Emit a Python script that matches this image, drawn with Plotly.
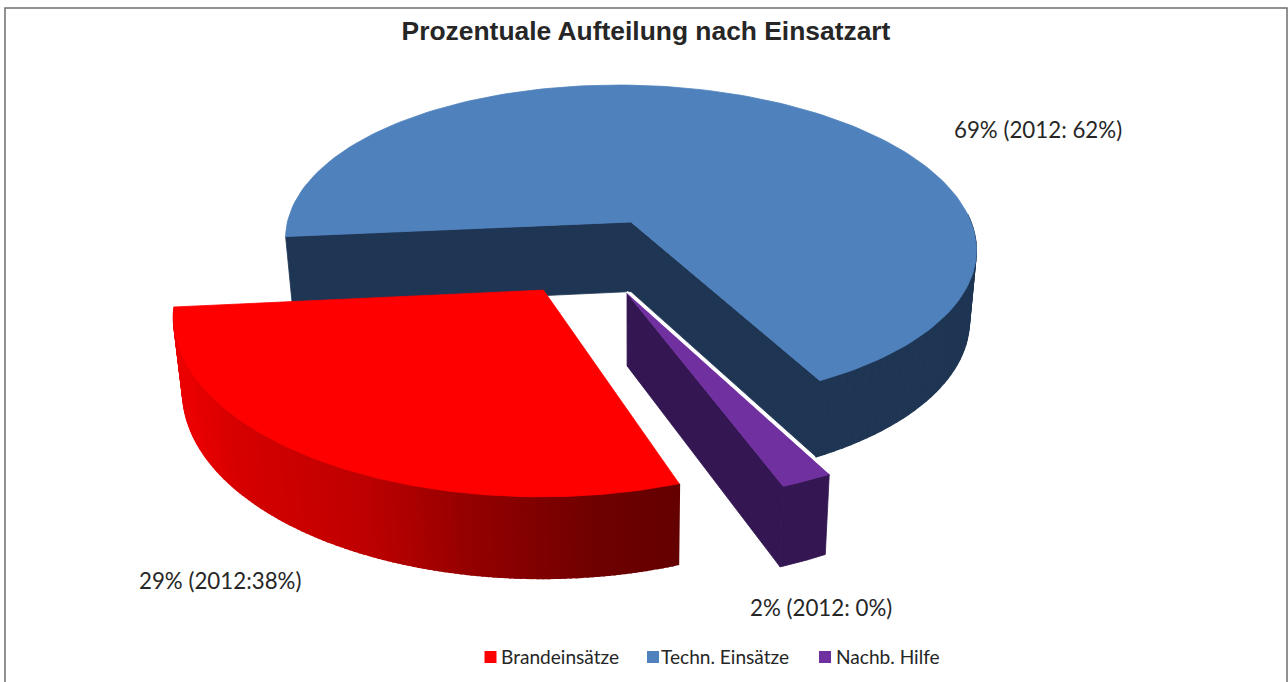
import numpy as np
import plotly.graph_objects as go

# --- data ---
categories = ["Brandeinsätze", "Techn. Einsätze", "Nachb. Hilfe"]
shares = [29, 69, 2]
slice_labels = ["29% (2012:38%)", "69% (2012: 62%)", "2% (2012: 0%)"]
title_text = "Prozentuale Aufteilung nach Einsatzart"

# --- style ---
top_colors = ["#ff0000", "#4f81bd", "#7030a0"]
wall_blue = "#1e3553"
wall_purple = "#341652"
text_color = "#262626"
label_font = "Lato"
red_wall_x = [185, 230, 363, 463, 547, 600, 680]
red_wall_level = [235, 215, 190, 150, 125, 110, 100]

# --- projection of the 3D pie (pixel space of the hidden axes) ---
CX, CY, RX, RY, DEPTH, PERSP, ROLL, SHRINK = 631, 222, 342, 156, 71, 0.14, 0.017, 0.98
explode = {"Brandeinsätze": (-0.241, 0.42), "Techn. Einsätze": (0, 0), "Nachb. Hilfe": (-0.011, 0.43)}
BLUE_START = 262.6  # clockwise from the back of the pie
RED_GAP = 1.0       # rounding slack of the percentages, in degrees


def project(X, Y, z):
    X, Y = np.asarray(X, float), np.asarray(Y, float)
    s = 1 / (1 - PERSP * Y)
    k = SHRINK if z else 1.0
    px = RX * X * s * k
    py = (RY * Y * s + DEPTH * s * z) * k
    return CX + px, CY + py + ROLL * px


def circle(theta, off):
    t = np.radians(theta)
    return np.sin(t) + off[0], -np.cos(t) + off[1]


# slice angles follow the values: Techn. -> Nachb. -> Brand, clockwise
span = {c: v / sum(shares) * 360 for c, v in zip(categories, shares)}
blue_a = BLUE_START
blue_b = blue_a + span["Techn. Einsätze"]
purple_a, purple_b = blue_b, blue_b + span["Nachb. Hilfe"]
red_a, red_b = purple_b + RED_GAP, purple_b + span["Brandeinsätze"]

fig = go.Figure()


def poly(x, y, color, width=0.8):
    xs, ys = list(x), list(y)
    fig.add_trace(go.Scatter(x=xs + xs[:1], y=ys + ys[:1], mode="lines", fill="toself",
                             fillcolor=color, line=dict(color=color, width=width),
                             hoverinfo="skip", showlegend=False))


def top_face(a, b, off, color):
    th = np.linspace(a, b, 160)
    X, Y = circle(th, off)
    x, y = project(np.r_[off[0], X], np.r_[off[1], Y], 0)
    poly(x, y, color)


def radial_wall(theta, off, color):
    X, Y = circle(theta, off)
    xa, ya = project([off[0], X], [off[1], Y], 0)
    xb, yb = project([X, off[0]], [Y, off[1]], 1)
    poly(np.r_[xa, xb], np.r_[ya, yb], color)


def outer_wall(a, b, off, color_fn, n, width=0.8):
    edges = np.linspace(a, b, n + 1)
    for i in range(n):
        th = np.linspace(edges[i], edges[i + 1], max(3, 120 // n))
        X, Y = circle(th, off)
        xa, ya = project(X, Y, 0)
        xb, yb = project(X[::-1], Y[::-1], 1)
        poly(np.r_[xa, xb], np.r_[ya, yb], color_fn((edges[i] + edges[i + 1]) / 2), width)


# Technische Einsätze (behind everything)
off = explode["Techn. Einsätze"]
radial_wall(blue_a, off, wall_blue)
radial_wall(blue_b, off, wall_blue)
outer_wall(445, blue_b, off, lambda th: wall_blue, 40, 1.2)
top_face(blue_a, blue_b, off, top_colors[1])

# Nachbarschaftshilfe
off = explode["Nachb. Hilfe"]
radial_wall(purple_b, off, wall_purple)
outer_wall(purple_a, purple_b, off, lambda th: wall_purple, 1)
top_face(purple_a, purple_b, off, top_colors[2])
X, Y = circle(purple_a, off)
ex, ey = project([off[0], X], [off[1], Y], 0)
fig.add_trace(go.Scatter(x=ex, y=ey - 1.5, mode="lines", line=dict(color="white", width=2),
                         hoverinfo="skip", showlegend=False))

# Brandeinsätze
off = explode["Brandeinsätze"]


def red_shade(th):
    X, Y = circle(th, off)
    sx, _ = project(X, Y, 0)
    return f"rgb({int(round(np.interp(sx, red_wall_x, red_wall_level)))},0,0)"


outer_wall(red_a, red_b, off, red_shade, 136, 2)
top_face(red_a, red_b, off, top_colors[0])

# --- data labels ---
label_pos = {"Brandeinsätze": (137, 580), "Techn. Einsätze": (952, 129), "Nachb. Hilfe": (748, 607)}
for c, txt in zip(categories, slice_labels):
    lx, ly = label_pos[c]
    fig.add_annotation(x=lx, y=ly, text=txt, showarrow=False, xanchor="left", yanchor="middle",
                       font=dict(family=label_font, size=22.3, color=text_color))

# --- legend ---
legend_marker_x = [490.5, 653, 825]
legend_text_x = [499, 659, 834]
for c, col, mx, tx in zip(categories, top_colors, legend_marker_x, legend_text_x):
    fig.add_trace(go.Scatter(x=[mx], y=[657], mode="markers", name=c,
                             marker=dict(symbol="square", size=12, color=col), showlegend=False))
    fig.add_annotation(x=tx, y=656, text=c, showarrow=False, xanchor="left", yanchor="middle",
                       font=dict(family=label_font, size=19.1, color=text_color))

fig.add_shape(type="rect", x0=5, x1=1287, y0=8, y1=720, line=dict(color="#6e6e6e", width=1.5),
              fillcolor="rgba(0,0,0,0)", layer="below")

fig.update_layout(
    width=1288, height=682, margin=dict(l=0, r=0, t=0, b=0),
    paper_bgcolor="white", plot_bgcolor="white", showlegend=False,
    title=dict(text=title_text, x=646 / 1288, xanchor="center", y=1 - 31 / 682, yanchor="middle",
               font=dict(family="Liberation Sans", size=26.4, color=text_color, weight="bold")),
    xaxis=dict(visible=False, range=[0, 1288], fixedrange=True),
    yaxis=dict(visible=False, range=[682, 0], fixedrange=True),
)
fig.write_html("out.html", config={"displayModeBar": False},
               post_script="document.body.style.margin='0';document.body.style.overflow='hidden';")
